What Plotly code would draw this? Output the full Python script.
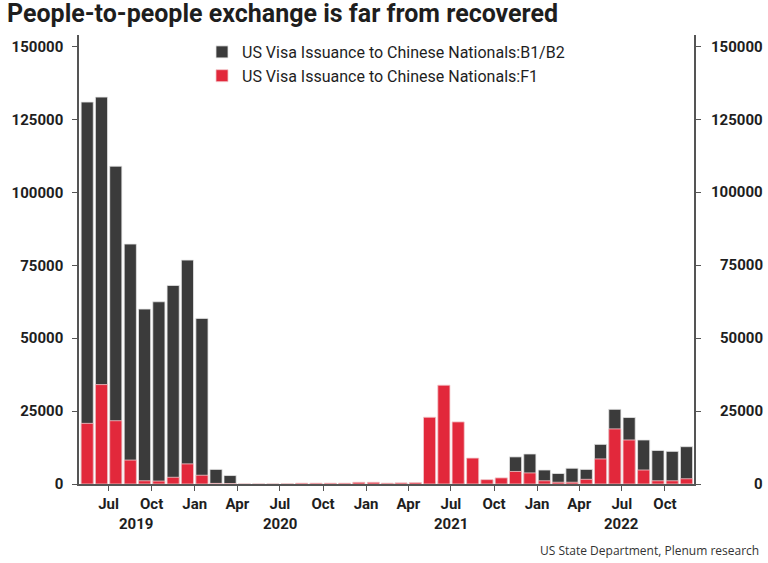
import plotly.graph_objects as go

# Monthly US visa issuance to Chinese nationals, May 2019 - Nov 2022
months = [
    "2019-05", "2019-06", "2019-07", "2019-08", "2019-09", "2019-10", "2019-11", "2019-12",
    "2020-01", "2020-02", "2020-03", "2020-04", "2020-05", "2020-06", "2020-07", "2020-08",
    "2020-09", "2020-10", "2020-11", "2020-12", "2021-01", "2021-02", "2021-03", "2021-04",
    "2021-05", "2021-06", "2021-07", "2021-08", "2021-09", "2021-10", "2021-11", "2021-12",
    "2022-01", "2022-02", "2022-03", "2022-04", "2022-05", "2022-06", "2022-07", "2022-08",
    "2022-09", "2022-10", "2022-11",
]
b1b2 = [
    131000, 132700, 109000, 82300, 60000, 62500, 68100, 76800,
    56800, 5000, 2900, 60, 40, 60, 90, 120,
    150, 150, 160, 200, 250, 200, 250, 300,
    800, 1000, 1200, 1400, 1300, 1900, 9300, 10300,
    4800, 3600, 5400, 5000, 13600, 25600, 22800, 15100,
    11500, 11200, 12800,
]
f1 = [
    20800, 34100, 21700, 8200, 1100, 1000, 2300, 6900,
    3000, 200, 100, 0, 0, 0, 50, 300,
    300, 300, 300, 600, 600, 300, 400, 500,
    22900, 33900, 21300, 8900, 1500, 2100, 4300, 3800,
    1100, 600, 600, 1600, 8600, 18900, 15100, 4800,
    1100, 1100, 1800,
]

series_names = [
    "US Visa Issuance to Chinese Nationals:B1/B2",
    "US Visa Issuance to Chinese Nationals:F1",
]

tick_months = [
    "2019-07", "2019-10", "2020-01", "2020-04", "2020-07", "2020-10", "2021-01",
    "2021-04", "2021-07", "2021-10", "2022-01", "2022-04", "2022-07", "2022-10",
]
tick_text = ["Jul", "Oct", "Jan", "Apr", "Jul", "Oct", "Jan",
             "Apr", "Jul", "Oct", "Jan", "Apr", "Jul", "Oct"]
years = ["2019", "2020", "2021", "2022"]
year_pos = ["2019-08-28", "2020-07-01", "2021-07-01", "2022-07-01"]

y_ticks = [0, 25000, 50000, 75000, 100000, 125000, 150000]

DARK = "#3b3b3b"
RED = "#e2283b"
TEXT = "#1e1e1e"
AXIS = "#555555"

x_dates = [m + "-01" for m in months]

fig = go.Figure()
fig.add_trace(go.Bar(
    x=x_dates, y=b1b2, name=series_names[0],
    xperiod="M1", xperiodalignment="middle",
    marker=dict(color=DARK, line=dict(color="#e6e6e6", width=0.8)),
))
fig.add_trace(go.Bar(
    x=x_dates, y=f1, name=series_names[1],
    xperiod="M1", xperiodalignment="middle",
    marker=dict(color=RED, line=dict(color="#f3c9cd", width=0.8)),
))
# invisible trace to carry the right-hand axis
fig.add_trace(go.Scatter(x=[x_dates[0]], y=[0], yaxis="y2", mode="markers",
                         marker=dict(opacity=0), showlegend=False, hoverinfo="skip"))

tick_font = dict(family="Roboto", size=15, color=TEXT, weight="bold")

# plot area in pixels: x 77..694, y 35..484
PLOT_W = 768 - 77 - 74
PLOT_H = 563 - 35 - 79

fig.update_layout(
    width=768, height=563,
    margin=dict(l=77, r=74, t=35, b=79),
    paper_bgcolor="white", plot_bgcolor="white",
    barmode="overlay", bargap=0.12,
    title=dict(
        text="People-to-people exchange is far from recovered",
        font=dict(family="Roboto", size=25, color=TEXT, weight="bold"),
        x=7 / 768, xanchor="left", xref="container",
        y=1 - 4 / 563, yanchor="top", yref="container",
    ),
    legend=dict(
        x=0.2, y=1.0, xanchor="left", yanchor="top",
        font=dict(family="Roboto", size=16, color=TEXT),
        bgcolor="rgba(0,0,0,0)", itemwidth=30, tracegroupgap=0,
    ),
    xaxis=dict(
        type="date", range=["2019-04-29", "2022-12-02"],
        tickvals=[m + "-01" for m in tick_months], ticktext=tick_text,
        ticks="outside", ticklen=5, tickcolor=AXIS,
        showline=True, linecolor=AXIS, linewidth=1.5,
        showgrid=False, zeroline=False, tickfont=tick_font,
    ),
    yaxis=dict(
        range=[0, 154000], tickvals=y_ticks, tickformat="d",
        ticks="outside", ticklen=5, tickcolor=AXIS,
        showline=True, linecolor=AXIS, linewidth=1.5,
        showgrid=False, zeroline=False, tickfont=tick_font,
        ticklabelstandoff=6,
    ),
    yaxis2=dict(
        range=[0, 154000], tickvals=y_ticks, overlaying="y", side="right",
        ticks="outside", ticklen=5, tickcolor=AXIS,
        showline=True, linecolor=AXIS, linewidth=1.5,
        showgrid=False, zeroline=False, showticklabels=False,
    ),
    showlegend=True,
)

# right-hand tick labels, right-aligned at the page edge
for v in y_ticks:
    fig.add_annotation(
        x=1 + (765 - 694) / PLOT_W, xref="paper", xanchor="right",
        y=v, yref="y", yanchor="middle",
        text=f"{v}", showarrow=False, font=tick_font,
    )

# year labels under the month ticks
for yr, pos in zip(years, year_pos):
    fig.add_annotation(
        x=pos, xref="x", xanchor="center",
        y=-40 / PLOT_H, yref="paper", yanchor="middle",
        text=yr, showarrow=False, font=tick_font,
    )

fig.add_annotation(
    x=(760 - 77) / PLOT_W, xref="paper", xanchor="right",
    y=-57 / PLOT_H, yref="paper", yanchor="top",
    text="US State Department, Plenum research", showarrow=False,
    font=dict(family="Open Sans", size=12, color="#333333"), borderpad=0,
)

fig.write_html("out.html")
